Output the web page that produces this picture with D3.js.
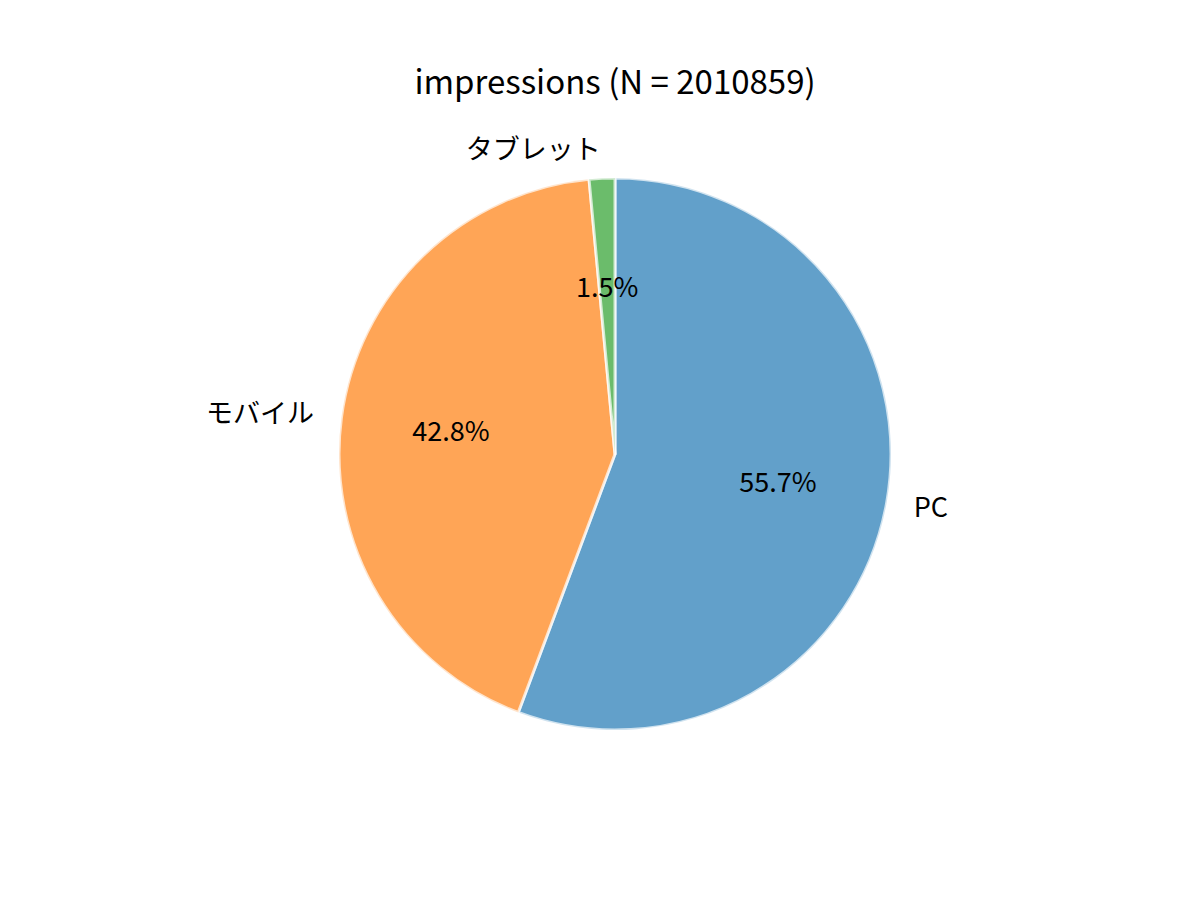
<!DOCTYPE html>
<html>
<head>
<meta charset="utf-8">
<script src="https://cdn.jsdelivr.net/npm/d3@7"></script>
<style>
  body { margin: 0; background: #fff; }
  svg text { font-family: "Noto Sans CJK JP", "Noto Sans", sans-serif; fill: #000; }
</style>
</head>
<body>
<div id="chart"></div>
<script>
// 데이터 (percent)
const categories = ['PC', 'モバイル', 'タブレット'];
const shares = [55.7, 42.8, 1.5];
const colors = ['#1f77b4', '#ff7f0e', '#2ca02c'];
const titleText = 'impressions (N = 2010859)';

const width = 1200, height = 900;
const cx = 615, cy = 454, radius = 276;

const svg = d3.select('#chart').append('svg')
    .attr('width', width)
    .attr('height', height);

svg.append('text')
    .attr('x', 615)
    .attr('y', 80)
    .attr('text-anchor', 'middle')
    .attr('dominant-baseline', 'central')
    .style('font-size', '33px')
    .text(titleText);

const data = categories.map((c, i) => ({ name: c, value: shares[i], color: colors[i] }));

// 시계 방향, 12시 시작
const pie = d3.pie().value(d => d.value).sort(null)
    .startAngle(0).endAngle(2 * Math.PI);
const arcs = pie(data);

const arc = d3.arc().innerRadius(0).outerRadius(radius);
const labelArc = d3.arc().innerRadius(radius * 1.1).outerRadius(radius * 1.1);
const pctArc = d3.arc().innerRadius(radius * 0.6).outerRadius(radius * 0.6);

const g = svg.append('g').attr('transform', `translate(${cx},${cy})`);

g.selectAll('path.wedge')
    .data(arcs)
    .enter()
    .append('path')
    .attr('class', 'wedge')
    .attr('d', arc)
    .attr('fill', d => d.data.color)
    .attr('fill-opacity', 0.7)
    .attr('stroke', '#fff')
    .attr('stroke-opacity', 0.7)
    .attr('stroke-width', 3)
    .attr('stroke-linejoin', 'round');

// 카테고리 라벨
g.selectAll('text.label')
    .data(arcs)
    .enter()
    .append('text')
    .attr('class', 'label')
    .attr('x', d => labelArc.centroid(d)[0])
    .attr('y', d => labelArc.centroid(d)[1])
    .attr('dy', -3)
    .attr('text-anchor', d => labelArc.centroid(d)[0] >= 0 ? 'start' : 'end')
    .attr('dominant-baseline', 'central')
    .style('font-size', '27px')
    .text(d => d.data.name);

// 퍼센트 라벨
g.selectAll('text.pct')
    .data(arcs)
    .enter()
    .append('text')
    .attr('class', 'pct')
    .attr('x', d => pctArc.centroid(d)[0])
    .attr('y', d => pctArc.centroid(d)[1])
    .attr('dy', -3)
    .attr('text-anchor', 'middle')
    .attr('dominant-baseline', 'central')
    .style('font-size', '27px')
    .text(d => d.data.value.toFixed(1) + '%');
</script>
</body>
</html>
